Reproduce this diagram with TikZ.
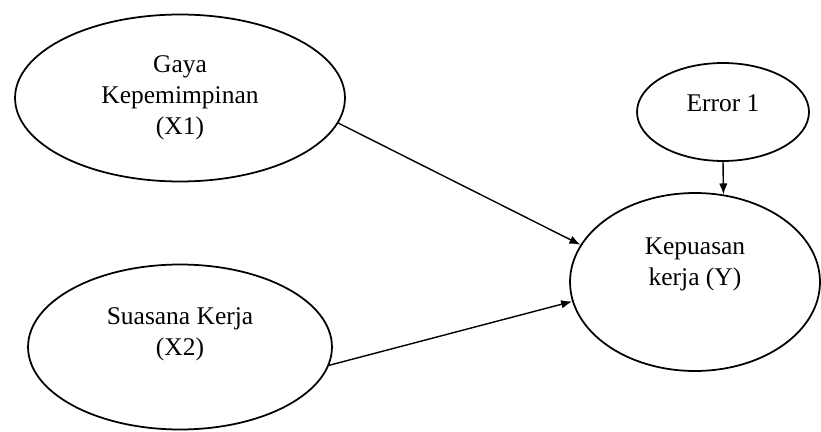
\documentclass[tikz,border=0pt]{standalone}
\usepackage{fontspec}
\setmainfont{Liberation Serif}
\usetikzlibrary{arrows.meta,shapes.geometric,positioning}

\begin{document}
\begin{tikzpicture}[x=0.02cm, y=-0.02cm,
		latent/.style={ellipse, draw, line width=1pt, inner sep=0pt},
		txt/.style={align=center, font=\fontsize{14.5}{17.5}\selectfont},
		arr/.style={line width=0.8pt, -{Latex[length=2.2mm,width=1.7mm]}}]
			\useasboundingbox (0,0) rectangle (821,432);
			
			% the two independent variables
			\node [latent, minimum width=6.6cm, minimum height=3.34cm,
				label={[txt]center:Gaya\\Kepemimpinan\\(X1)}] (x1) at (180,98) {};
			\node [latent, minimum width=6.08cm, minimum height=3.3cm,
				label={[txt, yshift=0.26cm]center:Suasana Kerja\\(X2)}] (x2) at (180,347) {};
			
			% dependent variable and its error term
			\node [latent, minimum width=5cm, minimum height=3.56cm,
				label={[txt, yshift=0.36cm]center:Kepuasan\\kerja (Y)}] (y) at (695,282) {};
			\node [latent, minimum width=3.44cm, minimum height=1.96cm,
				label={[txt, yshift=0.18cm]center:Error 1}] (err) at (723,112) {};
			
			\draw [arr] (x1.-9) -- (y.162);
			\draw [arr] (x2.-7) -- (y.189);
			\draw [arr] (err.south) -- (y.72);
			
		\end{tikzpicture}
\end{document}
